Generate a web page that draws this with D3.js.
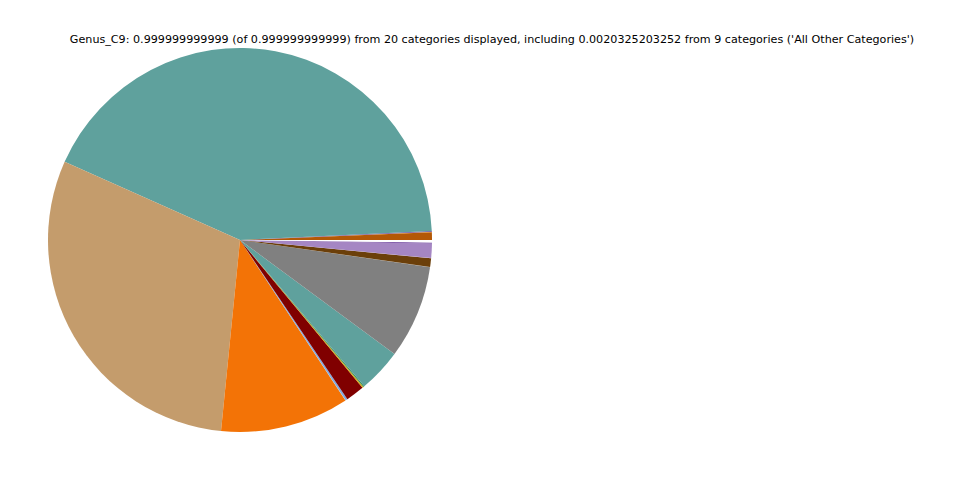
<!DOCTYPE html>
<html>
<head>
<meta charset="utf-8">
<script src="https://cdn.jsdelivr.net/npm/d3@7"></script>
<style>
  html, body { margin: 0; padding: 0; background: #ffffff; }
  svg { display: block; }
</style>
</head>
<body>
<svg id="chart" width="960" height="480"></svg>
<script>
const titleText = "Genus_C9: 0.999999999999 (of 0.999999999999) from 20 categories displayed, including 0.0020325203252 from 9 categories ('All Other Categories')";

const categories = [
  "Genus_01", "Genus_02", "Genus_03", "Genus_04", "Genus_05",
  "Genus_06", "Genus_07", "Genus_08", "Genus_09", "Genus_10",
  "Genus_11", "Genus_12", "Genus_13", "Genus_14", "Genus_15",
  "Genus_16", "Genus_17", "Genus_18", "Genus_19", "All Other Categories"
];
const values = [
  0.0064, 0.0004, 0.0007, 0.4256, 0.3008,
  0.1083, 0.0002, 0.0017, 0.0156, 0.0009,
  0.0003, 0.0008, 0.0367, 0.0785, 0.0002,
  0.0072, 0.0002, 0.0122, 0.0008, 0.00203
];
const colors = [
  "#b35806", "#e08214", "#5a3fa8", "#5fa19d", "#c49c6c",
  "#f37306", "#a6cee3", "#80a8e0", "#800000", "#d9a400",
  "#8c8c00", "#2e8b57", "#5fa19d", "#808080", "#999999",
  "#6b3f0a", "#c8a0d0", "#a586c3", "#6a3d9a", "#ffffff"
];

const svg = d3.select("#chart");
const cx = 240, cy = 240, r = 192;

svg.append("text")
  .attr("x", 492)
  .attr("y", 43)
  .attr("text-anchor", "middle")
  .attr("font-family", "DejaVu Sans")
  .attr("font-size", 11.15)
  .attr("fill", "#000")
  .text(titleText);

const pie = d3.pie()
  .sort(null)
  .value(d => d.v)
  .startAngle(Math.PI / 2)
  .endAngle(Math.PI / 2 - 2 * Math.PI);

const data = categories.map((c, i) => ({ c, v: values[i], col: colors[i] }));
const arc = d3.arc().innerRadius(0).outerRadius(r);

svg.append("g")
  .attr("transform", `translate(${cx},${cy})`)
  .selectAll("path")
  .data(pie(data))
  .join("path")
  .attr("d", arc)
  .attr("fill", d => d.data.col)
  .append("title").text(d => d.data.c);
</script>
</body>
</html>
